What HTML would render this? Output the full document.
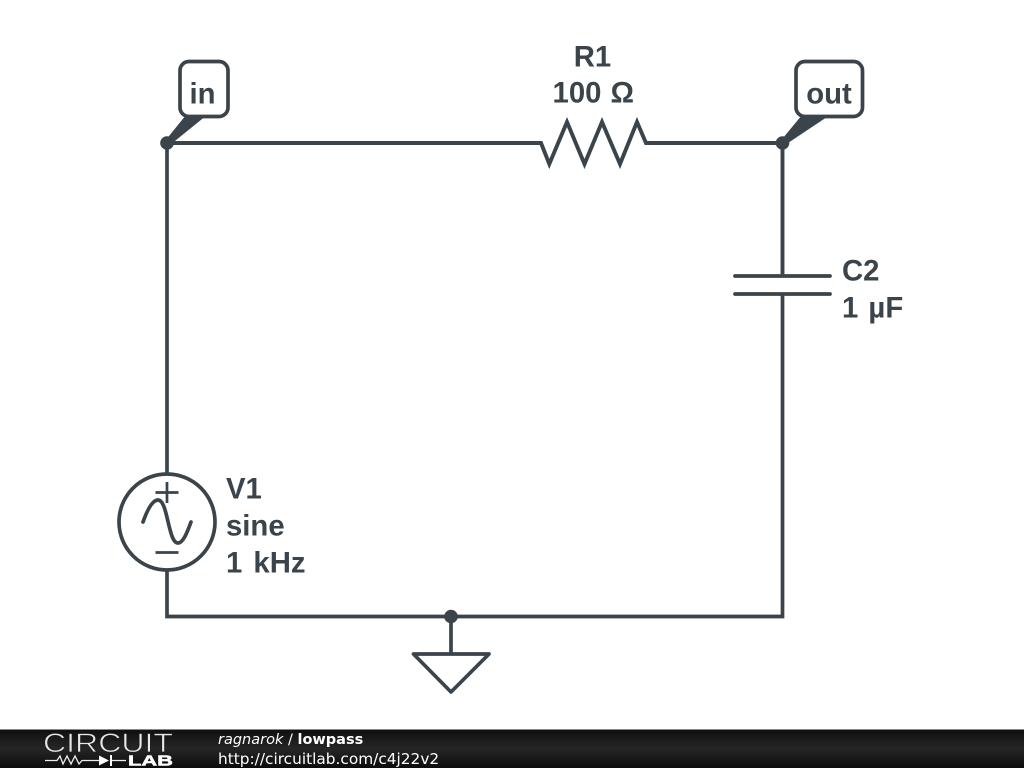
<!DOCTYPE html>
<html><head><meta charset="utf-8"><style>
html,body{margin:0;padding:0;background:#fff;width:1024px;height:768px;overflow:hidden}
svg{display:block}
</style></head><body>
<svg width="1024" height="768" viewBox="0 0 1024 768" xmlns="http://www.w3.org/2000/svg">
<defs><linearGradient id="g" x1="0" y1="0" x2="0" y2="1"><stop offset="0" stop-color="#0e0e0e"/><stop offset="0.5" stop-color="#262626"/><stop offset="1" stop-color="#0c0c0c"/></linearGradient></defs>
<rect width="1024" height="768" fill="#fff"/>
<g fill="none" stroke="#3b444b" stroke-width="3.700" stroke-linejoin="miter">
<path d="M167 143H541L549.300 164L567 122L584.500 164L602 122L620 164L637 122L646 143H782.500V276" stroke-width="3.900"/>
<path d="M782.500 294V616.500H167V570"/>
<path d="M167 143V474"/>
<path d="M735 276H830M735 294H830" stroke-linecap="round"/>
<path d="M451 616.500V654"/>
<path d="M413.500 654H489L451 692Z" stroke-linejoin="round"/>
<circle cx="167" cy="522" r="48" fill="#fff"/>
<path d="M167 482V503M155.500 492.500H178.500M155.500 552.500H178.500" stroke-width="2.700"/>
<path d="M143 522C148 508 153 500 158 500C168 500 168 543 178 543C183 543 187 533 191 522" stroke-linecap="round"/>
<rect x="180" y="61.500" width="48" height="55" rx="9" fill="#fff"/>
<rect x="796" y="61.500" width="66.500" height="55" rx="9" fill="#fff"/>
</g>
<g fill="#3b444b">
<circle cx="167" cy="143" r="6.800"/><circle cx="782.500" cy="143" r="6.800"/><circle cx="451" cy="616.500" r="6.800"/>
<path d="M165 141L186 115H207L170 145Z"/><path d="M780.500 141L802 115H830L785 145Z"/>
</g>
<g fill="#3b444b" font-family="'Liberation Sans',sans-serif" font-weight="700" font-size="29.300px">
<text x="202.500" y="103.500" text-anchor="middle">in</text>
<text x="829" y="103.500" text-anchor="middle">out</text>
<text x="592.500" y="66.500" text-anchor="middle">R1</text>
<text x="593.300" y="102.500" text-anchor="middle" word-spacing="1">100 Ω</text>
<text x="842" y="280.500">C2</text>
<text x="842" y="317.500" word-spacing="2">1 µF</text>
<text x="226" y="498.500">V1</text>
<text x="226" y="535.500">sine</text>
<text x="226" y="572.500" word-spacing="3">1 kHz</text>
</g>
<rect y="729" width="1024" height="39" fill="url(#g)"/>
<rect y="729" width="1024" height="1" fill="#8a8a8a"/>
<text x="43" y="752" fill="#e8e8e8" stroke="#1c1c1c" stroke-width="0.700" font-family="'Liberation Sans',sans-serif" font-size="27px" textLength="130" lengthAdjust="spacingAndGlyphs" font-weight="400">CIRCUIT</text>
<path d="M45 760.500H57L60 756L63 764L67 756L71 764L75 756L79 764L82 760.500H99M110 760.500H126" fill="none" stroke="#eee" stroke-width="1.300"/>
<path d="M99 755.500L109 760.500L99 765.500Z M110 755H112V766H110Z" fill="#fff"/>
<text x="128" y="765.500" fill="#fff" stroke="#fff" stroke-width="0.500" font-family="'Liberation Sans',sans-serif" font-weight="700" font-size="14.500px" textLength="45" lengthAdjust="spacingAndGlyphs">LAB</text>
<g fill="#fff" font-family="'DejaVu Sans',sans-serif">
<text x="218" y="744" font-size="14.500px"><tspan font-style="italic">ragnarok</tspan> / <tspan font-weight="700">lowpass</tspan></text>
<text x="218" y="764" font-size="15.350px">http://circuitlab.com/c4j22v2</text>
</g>
</svg>
</body></html>
